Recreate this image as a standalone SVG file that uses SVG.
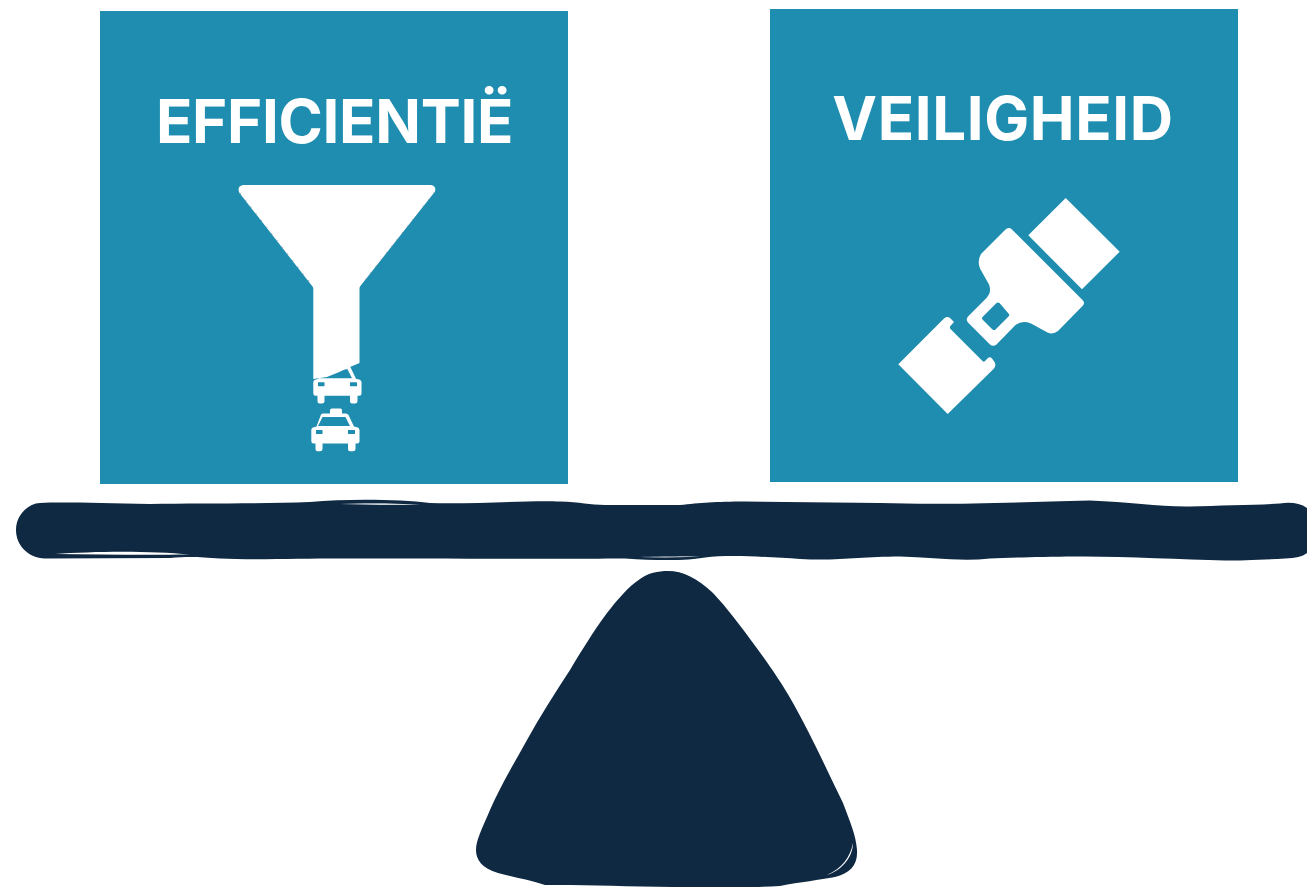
<svg xmlns="http://www.w3.org/2000/svg" width="1307" height="887" viewBox="0 0 1307 887">
<style>
.panel{fill:#1F8DB0}
.ink{fill:#0F2942}
.slit{fill:#fff}
.glyph{fill:#fff}
.title{font-family:Inter,"Liberation Sans",Arial,sans-serif;font-weight:700;font-size:60px;fill:#fff;text-anchor:middle}
.grain{fill:none;stroke:#9aa7ad;stroke-width:1;stroke-dasharray:1.500 7}
</style>
<defs>
<path id="taxi" class="glyph" fill-rule="evenodd" d="M321 414.500Q322 413.500 323 413.500L330 413.500L330 410Q330 408.500 332 408.500L340.500 408.500Q342 408.500 342 410L342 413.500L346 413.500Q347.500 413.500 348.500 415L354 426.500L358 427.500Q359.500 428.500 359.500 430L359.500 441Q359.500 443.500 357 443.500L355.500 443.500L355.500 449Q355.500 451.300 353 451.300L350 451.300Q348 451.300 348 449L348 443.500L322.500 443.500L322.500 449Q322.500 451.300 320 451.300L317.500 451.300Q315.500 451.300 315.500 449L315.500 443.500L313.500 443.500Q311.300 443.500 311.300 441L311.300 430Q311.300 428 313 427.500L316.500 426.500ZM322.500 417L318 426L350 426L345.500 417ZM316 430L316 434L322.500 434L322.500 430ZM348 430L348 434L355 434L355 430Z"/>
</defs>
<g id="node-efficientie">
<rect class="panel" x="100" y="11" width="468" height="473"/>
<text class="title" x="334.500" y="142.500" letter-spacing="-0.300">EFFICIENTIË</text>
<g id="funnel-icon">
<use href="#taxi"/>
<use href="#taxi" transform="translate(2 -47.700)"/>
<path class="glyph" d="M243 185L431 185Q436.500 186 435 191.500L360 286.500L359.500 288L359.500 363L350 367Q340 372 327 377L313.300 379L313.300 288L312.500 286.500L239.500 193Q236.500 186.500 243 185Z"/>
<path class="grain" d="M240 193L312 285M434.500 192L361 285"/>
</g>
</g>
<g id="node-veiligheid">
<rect class="panel" x="770" y="9" width="468" height="473"/>
<text class="title" x="1003" y="140" letter-spacing="0.600">VEILIGHEID</text>
<g id="seatbelt-icon" class="glyph">
<path d="M1065.700 198L1119.700 251.700L1082 289.300L1028.300 235.300Z"/>
<path fill-rule="evenodd" d="M1005 230Q1008.500 226.500 1012 229.500L1082.500 300Q1085.500 303 1082.500 306L1058 331Q1053 335 1047.500 332.500L1031 323.500Q1022 320 1015.500 325L996.500 344.500Q993 347 990 344.500L968 322.500Q965.500 319.500 968 316.500L986.500 298Q992 292 989 284.500L980 268.500Q977 261 981 254ZM996.500 303L982.500 317Q981.500 318.500 982.500 319.500L992.500 329.500Q994 330.500 995.500 329.500L1008.500 316.500Q1010 315 1008.500 313.500L999.500 303Q998 302 996.500 303Z"/>
<path d="M898.300 364.300L944 318.500Q947.500 316 950 318L954 322L950 326.500Q949.500 328 950.500 329L983 361.500Q984 362 985 361L988 358Q990 356.500 992 358.500L994.500 362Q996.500 365 994 368.500L947.700 414Z"/>
</g>
</g>
<g id="connectors"></g>
<g id="beam">
<path class="ink" d="M40 503C60 502 100 503 150 504C200 503 260 504 310 502C350 498.500 400 499.500 430 503C470 504.500 530 500 560 501.500C580 502 590 505 605 505L680 505C700 503 715 501.500 745 501.500L880 503C940 505 1000 503 1090 500.500C1130 502 1160 507 1190 506.500C1220 505.500 1260 505 1280 503.500C1290 502 1300 503 1307 508L1307 553C1302 557 1296 558 1285 558.500C1260 560 1240 560.500 1225 560.500C1180 559.500 1120 556 1075 556.500C1040 557 1010 557.500 990 558.500C960 562 930 557 900 556.500C860 556.500 840 561 800 559C770 557 730 554.500 705 557.500C690 560.500 660 561 625 558.500C560 559 440 558.500 340 558.500C300 558.500 250 560 220 558.500C200 557 190 556 170 558L45 558.500C28 558 16 545 16 530C16 515 28 503.500 40 503Z"/>
<path class="slit" d="M55 554C95 551 150 550.500 190 554.500C140 555 100 554.500 55 554Z"/>
<path class="slit" d="M340 504C365 503 395 503 420 505C395 505 365 505 340 504Z" opacity=".8"/>
<path class="slit" d="M640 557C665 556 690 556 700 556C680 558 660 558 640 557Z" opacity=".6"/>
</g>
<g id="fulcrum">
<path class="ink" d="M668 571C658 571 648 573 640 579C628 587 617 600 607 613C593 632 582 650 570 670C555 693 540 716 527 740C513 765 500 787 490 810C482 829 476 840 476 850C476 860 482 868 498 873C512 877 530 880 545 885C600 884 700 890 780 886C800 882 820 880 835 877C850 873 858 865 857 850C856 835 850 822 843 803C826 768 810 733 793 703C780 680 767 662 753 643C740 625 727 608 713 593C697 578 683 571 668 571Z"/>
<path class="slit" d="M853 843C853 856 843 870 827 875C842 868 850 858 853 843Z"/>
<path class="slit" d="M523 748L492 808L522 750Z" opacity=".7"/>
</g>
</svg>
